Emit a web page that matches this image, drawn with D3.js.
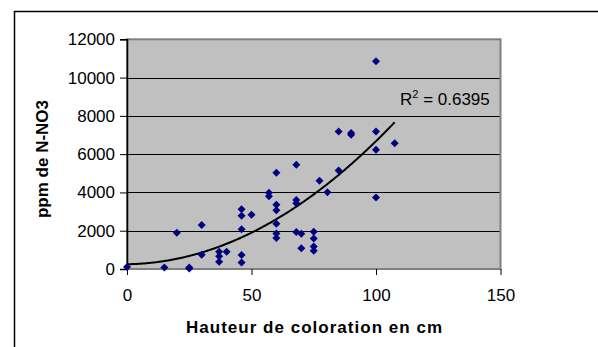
<!DOCTYPE html>
<html>
<head>
<meta charset="utf-8">
<script src="https://cdn.jsdelivr.net/npm/d3@7"></script>
<style>
  html, body { margin: 0; padding: 0; background: #fff; }
  svg { display: block; font-family: Arial, "Liberation Sans", sans-serif; }
</style>
</head>
<body>
<svg id="chart" width="598" height="347"></svg>
<script>
// ---- data ----
const hauteur = [0, 15, 20, 25, 25, 30, 30, 37, 37, 37, 40,
  46, 46, 46, 46, 46, 50, 57, 57, 60, 60, 60, 60, 60, 60,
  68, 68, 68, 68, 70, 70, 75, 75, 75, 75, 77.3, 80.5,
  85, 85, 90, 90, 100, 100, 100, 100, 107.5];
const ppm = [100, 80, 1900, 30, 80, 2300, 750, 900, 660, 380, 900,
  3120, 2780, 2080, 730, 340, 2840, 3980, 3800, 5030, 3360, 3070, 2360, 1850, 1620,
  5440, 3600, 3440, 1930, 1840, 1080, 1950, 1590, 1170, 950, 4610, 4010,
  7180, 5150, 7100, 7020, 10850, 7180, 6230, 3730, 6570];
const xTicks = [0, 50, 100, 150];
const yTicks = [0, 2000, 4000, 6000, 8000, 10000, 12000];
// quadratic trendline coefficients (a + b x + c x^2)
const trendCoef = [250, 1.6, 0.627];
const r2Label = "0.6395";
const xTitle = "Hauteur de coloration en cm";
const yTitle = "ppm de N-NO3";

(function () {
// ---- layout ----
const svg = d3.select("#chart");
const pL = 127, pR = 500.5, pT = 39.3, pB = 269;
const x = d3.scaleLinear().domain([0, 150]).range([pL, pR]);
const y = d3.scaleLinear().domain([0, 12000]).range([pB, pT]);

// outer chart border (only top/left visible)
svg.append("path")
  .attr("d", `M14.5,347 L14.5,11.5 L598,11.5`)
  .attr("fill", "none").attr("stroke", "#000").attr("stroke-width", 1.5);

// plot area
svg.append("rect")
  .attr("x", pL).attr("y", pT)
  .attr("width", pR - pL).attr("height", pB - pT)
  .attr("fill", "#C0C0C0");

// gridlines
svg.append("g").selectAll("line")
  .data(yTicks.filter(d => d > 0 && d < 12000))
  .join("line")
  .attr("x1", pL).attr("x2", pR)
  .attr("y1", d => Math.round(y(d)) + 0.5).attr("y2", d => Math.round(y(d)) + 0.5)
  .attr("stroke", "#000").attr("stroke-width", 1);

// plot border
svg.append("rect")
  .attr("x", pL).attr("y", pT)
  .attr("width", pR - pL).attr("height", pB - pT)
  .attr("fill", "none").attr("stroke", "#808080").attr("stroke-width", 2);

// y axis
const yAxis = d3.axisLeft(y).tickValues(yTicks).tickSize(7).tickPadding(5)
  .tickFormat(d3.format("d"));
const gy = svg.append("g").attr("transform", `translate(${pL},0)`).call(yAxis);
gy.select(".domain").attr("stroke", "#000").attr("stroke-width", 1.5);
gy.selectAll(".tick line").attr("stroke", "#000");
gy.selectAll(".tick text").attr("font-size", 17).attr("fill", "#000")
  .attr("font-family", "Arial, 'Liberation Sans', sans-serif");

// x axis
const xAxis = d3.axisBottom(x).tickValues(xTicks).tickSize(6).tickPadding(14)
  .tickFormat(d3.format("d"));
const gx = svg.append("g").attr("transform", `translate(0,${pB})`).call(xAxis);
gx.select(".domain").remove();
gx.selectAll(".tick line").attr("stroke", "#000");
gx.selectAll(".tick text").attr("font-size", 17).attr("fill", "#000")
  .attr("font-family", "Arial, 'Liberation Sans', sans-serif");

// trendline
const trendX = d3.range(d3.min(hauteur), d3.max(hauteur) + 0.001, 0.5);
const trend = v => trendCoef[0] + trendCoef[1] * v + trendCoef[2] * v * v;
svg.append("path")
  .datum(trendX)
  .attr("d", d3.line().x(d => x(d)).y(d => y(trend(d))))
  .attr("fill", "none").attr("stroke", "#000").attr("stroke-width", 2);

// markers (diamonds)
const pts = hauteur.map((h, i) => [h, ppm[i]]);
const r = 4;
svg.append("g").selectAll("path")
  .data(pts)
  .join("path")
  .attr("d", `M0,${-r}L${r},0L0,${r}L${-r},0Z`)
  .attr("transform", d => `translate(${x(d[0])},${y(d[1])})`)
  .attr("fill", "#000080");

// R^2 label
const rt = svg.append("text")
  .attr("x", 400).attr("y", 105)
  .attr("font-size", 17).attr("fill", "#000");
rt.append("tspan").text("R");
rt.append("tspan").attr("font-size", 11).attr("dy", -7).text("2");
rt.append("tspan").attr("dy", 7).text(" = " + r2Label);

// axis titles
svg.append("text")
  .attr("x", 314).attr("y", 333)
  .attr("text-anchor", "middle")
  .attr("font-size", 17).attr("font-weight", "bold")
  .attr("textLength", 256).attr("lengthAdjust", "spacing")
  .text(xTitle);

svg.append("text")
  .attr("transform", "translate(48,159) rotate(-90)")
  .attr("text-anchor", "middle")
  .attr("font-size", 17).attr("font-weight", "bold")
  .text(yTitle);
})();
</script>
</body>
</html>
